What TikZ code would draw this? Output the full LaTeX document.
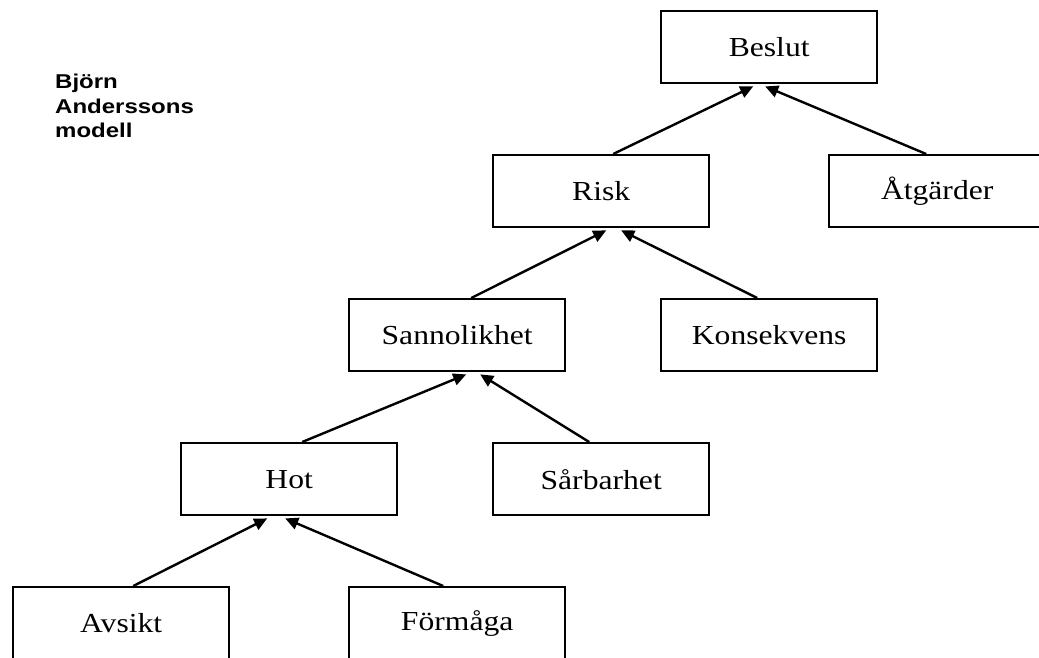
\documentclass[tikz,border=0pt]{standalone}
\usepackage{fontspec}
\usetikzlibrary{arrows.meta}
\newfontfamily\boxfont[FakeStretch=1.15]{Liberation Serif}
\newfontfamily\notefont[FakeStretch=1.2]{Liberation Sans}
\begin{document}
\begin{tikzpicture}[x=1pt,y=-1pt,
  box/.style={draw, line width=2.4pt, minimum width=216pt, minimum height=72pt, inner sep=0pt, anchor=north west, font=\boxfont\fontsize{27.5}{30}\selectfont},
  link/.style={line width=2.4pt, -{Triangle[length=13pt,width=12pt]}},
  note/.style={anchor=north west, align=left, inner sep=0pt, font=\notefont\bfseries\fontsize{20}{24.5}\selectfont}]
\useasboundingbox (0,0) rectangle (1039,657);
\node[note] (title) at (55,74) {Björn\\Anderssons\\modell};
\node[box] (beslut) at (660,10) {Beslut};
\node[box] (risk) at (492,154) {Risk};
\node[box] (atg) at (828,154) {Åtgärder};
\node[box] (sann) at (348,298) {Sannolikhet};
\node[box] (kons) at (660,298) {Konsekvens};
\node[box] (hot) at (180,442) {Hot};
\node[box] (sarb) at (492,442) {Sårbarhet};
\node[box] (avs) at (12,586) {Avsikt};
\node[box] (form) at (348,586) {Förmåga};
\draw[link] ([xshift=12pt]risk.north) -- ([xshift=-16pt,yshift=-2pt]beslut.south);
\draw[link] ([xshift=-11pt]atg.north) -- ([xshift=-4pt,yshift=-2pt]beslut.south);
\draw[link] ([xshift=14pt]sann.north) -- ([xshift=5pt,yshift=-2pt]risk.south);
\draw[link] ([xshift=-12pt]kons.north) -- ([xshift=20pt,yshift=-2pt]risk.south);
\draw[link] ([xshift=13pt]hot.north) -- ([xshift=9pt,yshift=-2pt]sann.south);
\draw[link] ([xshift=-12pt]sarb.north) -- ([xshift=23pt,yshift=-2pt]sann.south);
\draw[link] ([xshift=12pt]avs.north) -- ([xshift=-22pt,yshift=-2pt]hot.south);
\draw[link] ([xshift=-14pt]form.north) -- ([xshift=-4pt,yshift=-2pt]hot.south);
\end{tikzpicture}
\end{document}
